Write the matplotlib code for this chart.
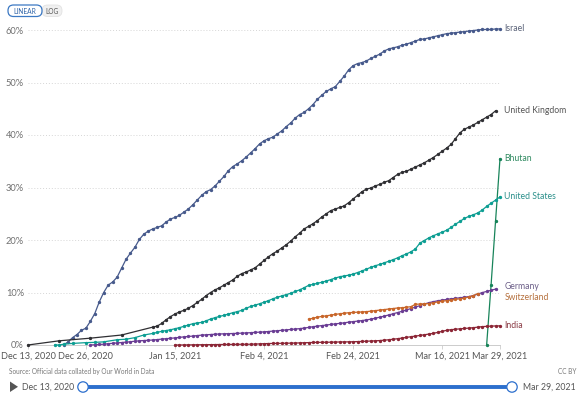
import numpy as np
import pandas as pd
import matplotlib
matplotlib.use('Agg')
import matplotlib.pyplot as plt
from matplotlib.patches import FancyBboxPatch, Circle, Polygon

plt.rcParams['font.family'] = ['Lato', 'DejaVu Sans']

# share of people vaccinated (%), daily, day 0 = Dec 13, 2020
start_date = pd.Timestamp('2020-12-13')

israel_start = 8
israel_vals = [0.0, 0.6, 1.4, 2.0, 2.8, 3.2, 4.5, 6.0, 8.2, 10.0, 11.4, 12.0, 12.9, 14.6, 16.3,
               17.5, 18.6, 20.1, 21.1, 21.7, 22.1, 22.4, 22.7, 23.4, 24.0, 24.3, 24.7, 25.3,
               25.9, 26.7, 27.6, 28.5, 29.2, 29.6, 30.3, 31.2, 32.1, 33.2, 34.0, 34.5, 35.1,
               35.8, 36.6, 37.4, 38.3, 38.9, 39.3, 39.6, 40.2, 40.8, 41.6, 42.3, 43.2, 43.9,
               44.3, 45.0, 45.8, 46.8, 47.6, 48.3, 48.8, 49.2, 50.2, 51.2, 52.4, 53.2, 53.6,
               53.8, 54.1, 54.6, 55.0, 55.4, 56.0, 56.4, 56.6, 56.8, 57.1, 57.3, 57.6, 57.9,
               58.2, 58.3, 58.5, 58.7, 58.9, 59.1, 59.3, 59.4, 59.5, 59.6, 59.7, 59.8, 59.9,
               60.0, 60.1, 60.1, 60.1, 60.2, 60.2]

uk_early_days = [0, 7, 14, 21]
uk_early_vals = [0.0, 0.8, 1.3, 1.9]
uk_start = 28
uk_vals = [3.4, 3.6, 4.1, 4.8, 5.4, 5.9, 6.3, 6.6, 7.0, 7.5, 8.1, 8.7, 9.4, 10.0, 10.5, 10.9,
           11.4, 11.9, 12.4, 13.1, 13.6, 13.9, 14.3, 14.7, 15.4, 16.1, 16.8, 17.4, 17.9, 18.5,
           19.1, 19.8, 20.6, 21.3, 22.1, 22.6, 23.1, 23.7, 24.4, 25.0, 25.6, 25.9, 26.2, 26.5,
           27.1, 27.8, 28.5, 29.2, 29.7, 29.9, 30.3, 30.6, 31.0, 31.3, 31.9, 32.5, 32.9, 33.1,
           33.5, 33.9, 34.3, 34.7, 35.2, 35.7, 36.3, 36.9, 37.5, 38.2, 39.3, 40.4, 41.1, 41.5,
           41.9, 42.4, 42.9, 43.4, 43.9, 44.6]

us_early_days = [6, 7, 8, 10, 13, 15, 17, 20, 22, 24, 26]
us_early_vals = [0.0, 0.0, 0.15, 0.3, 0.45, 0.5, 0.6, 1.0, 1.1, 1.4, 1.9]
us_start = 28
us_vals = [2.2, 2.4, 2.6, 2.75, 2.9, 3.1, 3.3, 3.55, 3.8, 4.05, 4.2, 4.3, 4.6, 4.95, 5.2, 5.45,
           5.65, 5.9, 6.15, 6.35, 6.6, 7.0, 7.35, 7.6, 7.85, 8.15, 8.45, 8.8, 9.1, 9.35, 9.6,
           9.85, 10.2, 10.5, 10.9, 11.35, 11.55, 11.75, 11.95, 12.2, 12.45, 12.75, 13.0, 13.15,
           13.3, 13.5, 13.8, 14.1, 14.45, 14.8, 15.1, 15.35, 15.65, 15.95, 16.25, 16.6, 17.0,
           17.35, 17.75, 18.3, 19.4, 19.9, 20.4, 20.8, 21.15, 21.5, 21.85, 22.4, 23.0, 23.55,
           24.1, 24.5, 24.8, 25.15, 25.7, 26.4, 27.0, 27.6, 28.2]

bhutan_days = [103, 104, 105, 106]
bhutan_vals = [0.0, 11.5, 23.6, 35.5]

germany_start = 14
germany_vals = [0.0, 0.05, 0.1, 0.15, 0.25, 0.32, 0.4, 0.47, 0.55, 0.62, 0.72, 0.8, 0.85, 0.9,
                0.95, 1.03, 1.12, 1.2, 1.28, 1.35, 1.45, 1.55, 1.62, 1.7, 1.8, 1.88, 1.94, 2.0,
                2.05, 2.1, 2.13, 2.16, 2.19, 2.22, 2.26, 2.3, 2.35, 2.4, 2.45, 2.5, 2.57, 2.65,
                2.72, 2.8, 2.88, 2.96, 3.04, 3.12, 3.22, 3.35, 3.48, 3.6, 3.7, 3.8, 3.92, 4.02,
                4.12, 4.22, 4.35, 4.45, 4.55, 4.65, 4.78, 4.92, 5.1, 5.3, 5.5, 5.72, 5.95, 6.18,
                6.42, 6.68, 6.95, 7.22, 7.5, 7.8, 8.05, 8.25, 8.42, 8.55, 8.68, 8.8, 8.9, 9.0,
                9.1, 9.22, 9.4, 9.7, 9.98, 10.2, 10.42, 10.65]

swiss_start = 63
swiss_vals = [4.9, 5.1, 5.3, 5.45, 5.55, 5.7, 5.82, 5.95, 6.05, 6.15, 6.2, 6.25, 6.3, 6.35,
              6.45, 6.55, 6.65, 6.75, 6.85, 6.95, 7.05, 7.1, 7.2, 7.3, 7.75, 7.8, 7.85, 7.9,
              8.05, 8.2, 8.35, 8.45, 8.55, 8.7, 8.8, 8.95, 9.15, 9.4, 9.8]

india_start = 33
india_vals = [0.0, 0.0, 0.01, 0.02, 0.03, 0.04, 0.05, 0.06, 0.07, 0.08, 0.09, 0.1, 0.11, 0.12,
              0.13, 0.14, 0.14, 0.15, 0.18, 0.21, 0.25, 0.28, 0.3, 0.31, 0.32, 0.34, 0.36, 0.38,
              0.4, 0.43, 0.46, 0.48, 0.5, 0.51, 0.52, 0.54, 0.56, 0.58, 0.59, 0.6, 0.62, 0.65,
              0.68, 0.72, 0.76, 0.8, 0.85, 0.92, 1.0, 1.1, 1.2, 1.32, 1.45, 1.58, 1.7, 1.82,
              1.95, 2.08, 2.22, 2.4, 2.6, 2.8, 2.92, 3.0, 3.08, 3.15, 3.22, 3.3, 3.4, 3.5,
              3.55, 3.6, 3.63, 3.65]

tick_dates = ['2020-12-13', '2020-12-26', '2021-01-15', '2021-02-04',
              '2021-02-24', '2021-03-16', '2021-03-29']
tick_labels = ['Dec 13, 2020', 'Dec 26, 2020', 'Jan 15, 2021', 'Feb 4, 2021',
               'Feb 24, 2021', 'Mar 16, 2021', 'Mar 29, 2021']
y_ticks = [0, 10, 20, 30, 40, 50, 60]


def daily(start, vals):
    return list(range(start, start + len(vals))), vals


def to_dates(days):
    return [start_date + pd.Timedelta(days=d) for d in days]


series = []
d, v = daily(israel_start, israel_vals)
series.append(('Israel', d, v, '#475a8c', '#5a6278', 0))
d, v = daily(uk_start, uk_vals)
series.append(('United Kingdom', uk_early_days + d, uk_early_vals + v, '#2f2f33', '#555555', 0))
series.append(('Bhutan', bhutan_days, bhutan_vals, '#18845a', '#2f8a60', 0))
d, v = daily(us_start, us_vals)
series.append(('United States', us_early_days + d, us_early_vals + v, '#0d9e93', '#2a8f8a', 0))
d, v = daily(germany_start, germany_vals)
series.append(('Germany', d, v, '#6a3d94', '#6c5f88', 0.45))
d, v = daily(swiss_start, swiss_vals)
series.append(('Switzerland', d, v, '#c8662a', '#b5703d', -0.8))
d, v = daily(india_start, india_vals)
series.append(('India', d, v, '#8c2636', '#8a3a44', 0))

W, H = 582, 395
fig = plt.figure(figsize=(W / 100, H / 100), dpi=100)

# plot area in pixels: x 28..500, y 0% at 345, 5.25 px per percent
ymax = 61
ax = fig.add_axes([28 / W, (H - 345) / H, 472 / W, ymax * 5.25 / H])

for name, days, vals, color, tcolor, dy in series:
    ax.plot(to_dates(days), vals, color=color, lw=0.9, marker='o', ms=1.4,
            clip_on=False, zorder=3)
    ax.text(start_date + pd.Timedelta(days=107), vals[-1] + dy, name, color=tcolor,
            fontsize=6.2, va='center', ha='left')

ax.set_xlim(start_date, start_date + pd.Timedelta(days=106))
ax.set_ylim(0, ymax)
ax.set_yticks(y_ticks)
ax.set_yticklabels([f'{t}%' for t in y_ticks])
ax.set_xticks(pd.to_datetime(tick_dates))
ax.set_xticklabels(tick_labels)
ax.tick_params(axis='y', length=0, pad=3, labelsize=6.7, labelcolor='#707070')
ax.tick_params(axis='x', length=3, width=0.6, color='#cccccc', pad=1.5,
               labelsize=6.6, labelcolor='#555555')
for t in y_ticks[1:]:
    ax.axhline(t, color='#d6d6d6', lw=0.7, ls=(0, (1, 2)), zorder=1)
for s in ['top', 'right', 'left']:
    ax.spines[s].set_visible(False)
ax.spines['bottom'].set_color('#cccccc')
ax.spines['bottom'].set_linewidth(0.7)

# interface elements drawn in pixel space
ui = fig.add_axes([0, 0, 1, 1])
ui.set_xlim(0, W)
ui.set_ylim(H, 0)
ui.axis('off')
ui.patch.set_visible(False)

ui.add_patch(FancyBboxPatch((42, 5), 20, 11.5, boxstyle='round,pad=0,rounding_size=5.5',
                            fc='#f0f0f0', ec='#e2e2e2', lw=0.6))
ui.add_patch(FancyBboxPatch((8, 5), 34, 11.5, boxstyle='round,pad=0,rounding_size=5.5',
                            fc='white', ec='#3b78c3', lw=0.9))
ui.text(25, 11, 'LINEAR', color='#2f64a8', fontsize=4.8, ha='center', va='center')
ui.text(52, 11, 'LOG', color='#555555', fontsize=4.8, ha='center', va='center')

ui.text(9, 371.5, 'Source: Official data collated by Our World in Data', color='#777777',
        fontsize=4.7, ha='left', va='center')
ui.text(576, 371.5, 'CC BY', color='#777777', fontsize=4.7, ha='right', va='center')

ui.add_patch(Polygon([[10, 381.5], [10, 392], [18, 386.8]], closed=True, fc='#555555', ec='none'))
ui.text(22, 387, 'Dec 13, 2020', color='#555555', fontsize=6.3, ha='left', va='center')
ui.plot([83, 512], [387, 387], color='#2c6fcd', lw=2.8, solid_capstyle='butt', zorder=2)
for cx in (83, 512):
    ui.add_patch(Circle((cx, 387), 5.2, fc='white', ec='#2c6fcd', lw=0.9, zorder=3))
ui.text(576, 387, 'Mar 29, 2021', color='#555555', fontsize=6.3, ha='right', va='center')

fig.savefig('out.png', dpi=100)
